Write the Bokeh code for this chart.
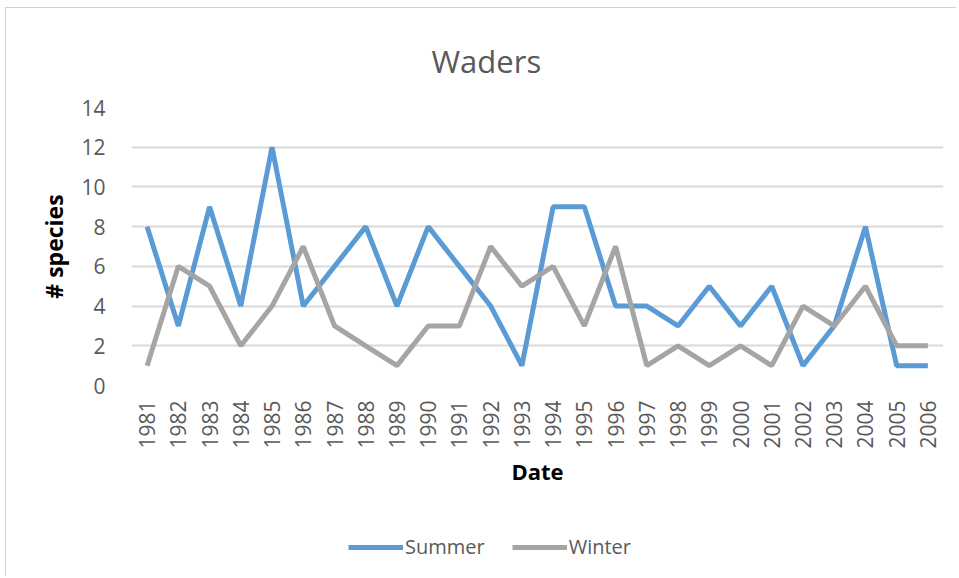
import math
from bokeh.plotting import figure
from bokeh.layouts import column
from bokeh.models import ColumnDataSource, FixedTicker, Legend, LegendItem, Range1d
from bokeh.embed import file_html
from bokeh.resources import INLINE

years = list(range(1981, 2007))
summer = [8, 3, 9, 4, 12, 4, 6, 8, 4, 8, 6, 4, 1, 9, 9, 4, 4, 3, 5, 3, 5, 1, 3, 8, 1, 1]
winter = [1, 6, 5, 2, 4, 7, 3, 2, 1, 3, 3, 7, 5, 6, 3, 7, 1, 2, 1, 2, 1, 4, 3, 5, 2, 2]
y_ticks = [0, 2, 4, 6, 8, 10, 12, 14]
series_names = ["Summer", "Winter"]
series_colors = ["#5B9BD5", "#A5A5A5"]

FONT = "Open Sans"
GRAY_TXT = "#595959"

src = ColumnDataSource(dict(year=years, summer=summer, winter=winter))

p = figure(width=950, height=500, output_backend="svg", toolbar_location=None,
           x_range=Range1d(1980.5, 2006.5), y_range=Range1d(0, 14),
           min_border_left=125, min_border_right=13, min_border_top=99, min_border_bottom=123,
           title="Waders")
p.outline_line_color = None
p.background_fill_color = "white"
p.border_fill_color = "white"

p.title.align = "left"
p.title.offset = 300
p.title.standoff = 52
p.title.text_font = FONT
p.title.text_font_size = "31px"
p.title.text_font_style = "normal"
p.title.text_color = GRAY_TXT

p.line("year", "summer", source=src, line_color=series_colors[0], line_width=5)
p.line("year", "winter", source=src, line_color=series_colors[1], line_width=5)

# axes
p.xaxis.ticker = FixedTicker(ticks=years)
p.yaxis.ticker = FixedTicker(ticks=y_ticks)
p.xaxis.major_label_orientation = math.pi / 2
for ax in (p.xaxis, p.yaxis):
    ax.axis_line_color = None
    ax.major_tick_line_color = None
    ax.minor_tick_line_color = None
    ax.major_label_text_font = FONT
    ax.major_label_text_font_size = "21px"
    ax.major_label_text_color = GRAY_TXT
    ax.axis_label_text_font = FONT
    ax.axis_label_text_font_style = "bold"
    ax.axis_label_text_font_size = "22px"
    ax.axis_label_text_color = "#000000"
p.yaxis.axis_label_text_font_size = "23px"
p.xaxis.major_label_standoff = 9
p.yaxis.major_label_standoff = 20
p.xaxis.axis_label = "Date"
p.yaxis.axis_label = "# species"
p.xaxis.axis_label_standoff = 4
p.yaxis.axis_label_standoff = 8

p.xgrid.grid_line_color = None
p.ygrid.grid_line_color = "#d9d9d9"
p.ygrid.grid_line_width = 2

# legend strip below the chart (its frame lines up with the chart's frame)
lf = figure(width=950, height=68, output_backend="svg", toolbar_location=None,
            x_range=Range1d(0, 1), y_range=Range1d(0, 1),
            x_axis_type=None, y_axis_type=None,
            min_border_left=0, min_border_right=0, min_border_top=0, min_border_bottom=0)
lf.outline_line_color = None
lf.xgrid.grid_line_color = None
lf.ygrid.grid_line_color = None
lf.background_fill_color = "white"
lf.border_fill_color = "white"
items = []
for name, col in zip(series_names, series_colors):
    # proxy lines kept outside the visible range; they only feed the legend
    r = lf.line(x=[5, 6], y=[5, 6], line_color=col, line_width=5)
    items.append(LegendItem(label=name, renderers=[r]))
legend = Legend(items=items, orientation="horizontal", location=(217, 16),
                glyph_width=55, glyph_height=20, label_standoff=2, spacing=27,
                padding=0, margin=0, border_line_color=None,
                background_fill_alpha=0,
                label_text_font=FONT, label_text_font_size="20px",
                label_text_color=GRAY_TXT)
lf.add_layout(legend, "center")

layout = column(p, lf, spacing=0)
layout.margin = (7, 0, 0, 5)
layout.styles = {"border-top": "1px solid #d0d0d0", "border-left": "1px solid #d0d0d0"}

open("out.html", "w").write(file_html(layout, INLINE))
